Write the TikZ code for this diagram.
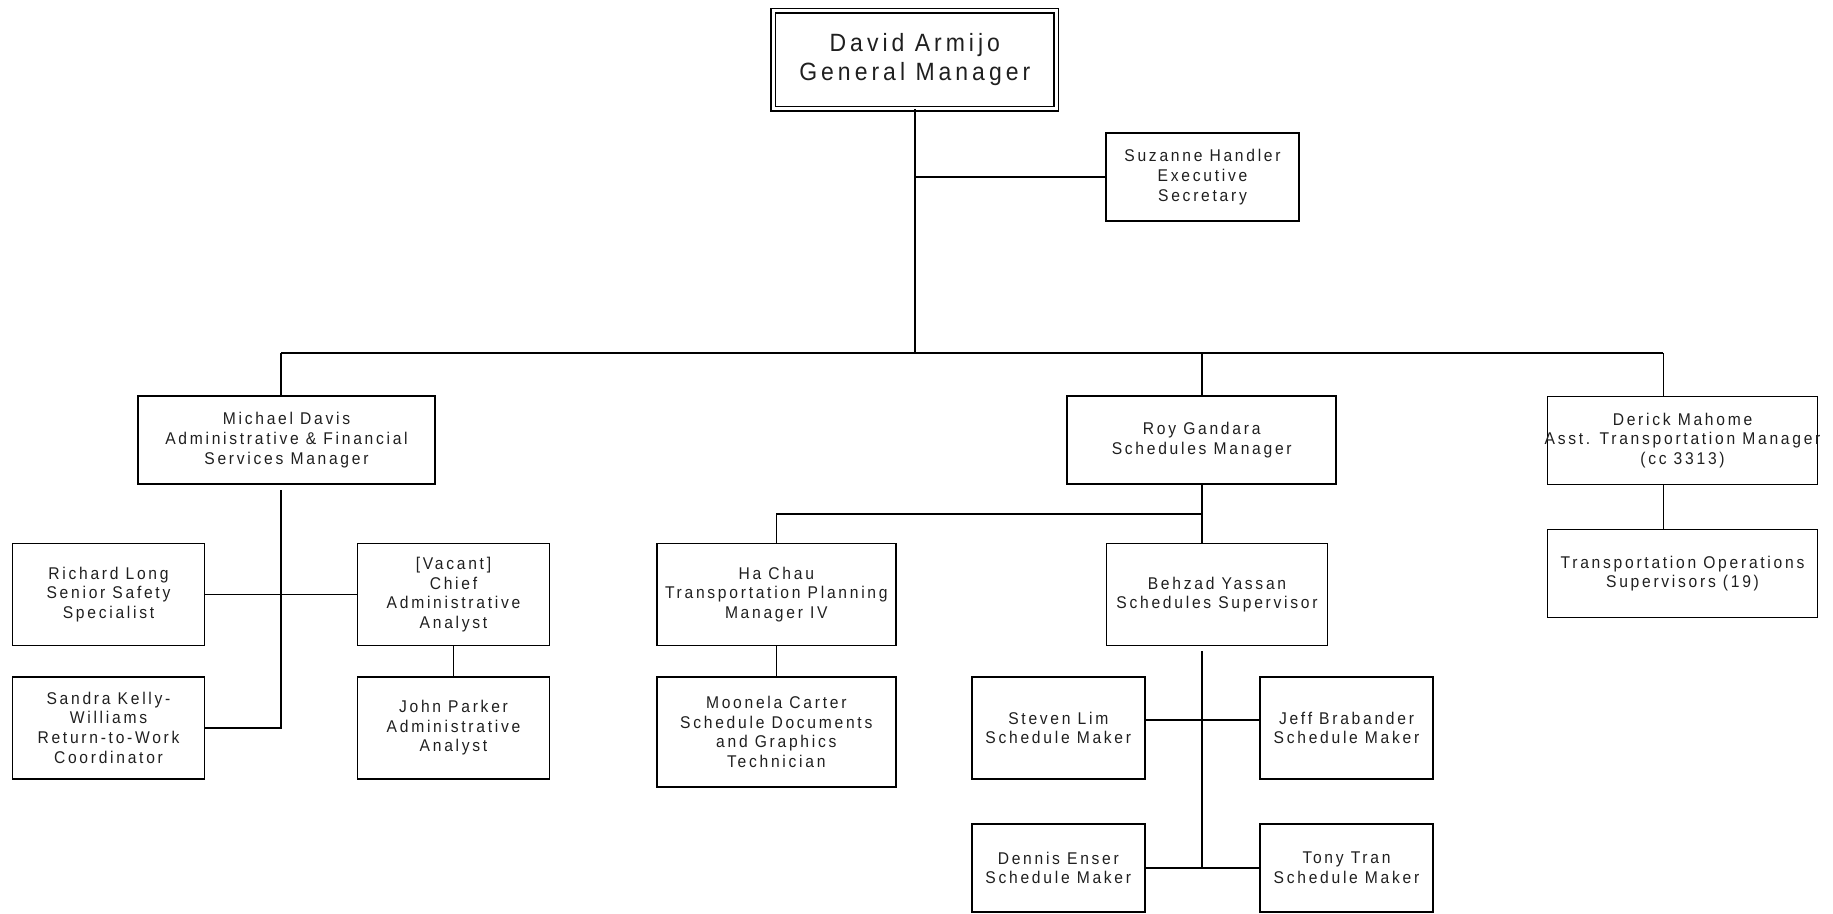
\documentclass[tikz,border=0pt]{standalone}
\usepackage{fontspec}
\setmainfont[LetterSpace=16, FakeStretch=0.92]{Liberation Sans}
\usetikzlibrary{positioning,calc}

\begin{document}
\begin{tikzpicture}[x=1pt, y=-1pt, line width=1.6pt,
    every node/.style={font=\fontsize{17}{19.7}\selectfont, text=black!88, align=center, inner sep=1pt},
    post/.style={draw, rectangle},
    sz/.style 2 args={minimum width=#1pt, minimum height=#2pt}]
        \useasboundingbox (0,0) rectangle (1833,913);

        % General manager and secretary
        \node[post, double, line width=1.5pt, double distance=3pt, sz={283}{98}, font=\fontsize{25}{28.3}\selectfont] (gm) at (914.8,59.5) {David Armijo\\General Manager};
        \node[post, sz={193}{88}] (sec) at (1202.5,177) {Suzanne Handler\\Executive\\Secretary};

        % Managers
        \node[post, sz={297}{88}] (md) at (286.5,440) {Michael Davis\\Administrative \& Financial\\Services Manager};
        \node[post, sz={269}{88}] (roy) at (1201.7,440) {Roy Gandara\\Schedules Manager};
        \node[post, sz={270}{88}] (dm) at (1682.5,440.5) {Derick Mahome\\\makebox[250pt]{Asst. Transportation Manager}\\(cc 3313)};
        \node[post, sz={270}{88}] (tos) at (1682.5,573.5) {Transportation Operations\\Supervisors (19)};

        % Administrative & financial services
        \node[post, sz={192}{102}] (rl) at (108.5,594.5) {Richard Long\\Senior Safety\\Specialist};
        \node[post, sz={192}{102}] (vac) at (453.5,594.5) {[Vacant]\\Chief\\Administrative\\Analyst};
        \node[post, sz={192}{102}] (sk) at (108.5,727.7) {Sandra Kelly-\\Williams\\Return-to-Work\\Coordinator};
        \node[post, sz={192}{102}] (jp) at (453.5,727.7) {John Parker\\Administrative\\Analyst};

        % Schedules
        \node[post, sz={239}{102}] (hc) at (776.3,594.5) {Ha Chau\\Transportation Planning\\Manager IV};
        \node[post, sz={239}{110}] (mc) at (776.3,732) {Moonela Carter\\Schedule Documents\\and Graphics\\Technician};
        \node[post, sz={221}{102}] (by) at (1217,594.5) {Behzad Yassan\\Schedules Supervisor};
        \node[post, sz={173}{102}] (sl) at (1058.3,728) {Steven Lim\\Schedule Maker};
        \node[post, sz={173}{102}] (jb) at (1346.5,728) {Jeff Brabander\\Schedule Maker};
        \node[post, sz={173}{88}] (de) at (1058.3,868) {Dennis Enser\\Schedule Maker};
        \node[post, sz={173}{88}] (tt) at (1346.5,868) {Tony Tran\\Schedule Maker};

        % Bus below the general manager
        \coordinate (bus) at (914.8,353);
        \coordinate (mdtap) at (281,353);
        \coordinate (dmtap) at (1663.3,353);
        \coordinate (mdstem) at (281,490);
        \coordinate (bystem) at (1201.7,651);

        \draw (gm.south) -- (bus);
        \draw (sec.west) -- (sec.west -| gm.south);
        \draw (mdtap) -- (dmtap);
        \draw (mdtap) -- (mdtap |- md.north);
        \draw (roy.north) -- (roy.north |- bus);
        \draw (dmtap) -- (dmtap |- dm.north);
        \draw (dm.south -| dmtap) -- (tos.north -| dmtap);

        \draw (mdstem) -- (mdstem |- sk.east) -- (sk.east);
        \draw (rl.east) -- (vac.west);
        \draw (vac.south) -- (jp.north);

        \draw (roy.south) -- (roy.south |- by.north);
        \draw (hc.north) |- ($(roy.south)!0.5!(roy.south |- by.north)$);
        \draw (hc.south) -- (mc.north);

        \draw (bystem) -- (bystem |- de.east);
        \draw ([yshift=8pt]sl.east) -- ([yshift=8pt]jb.west);
        \draw (de.east) -- (tt.west);
    \end{tikzpicture}
\end{document}
